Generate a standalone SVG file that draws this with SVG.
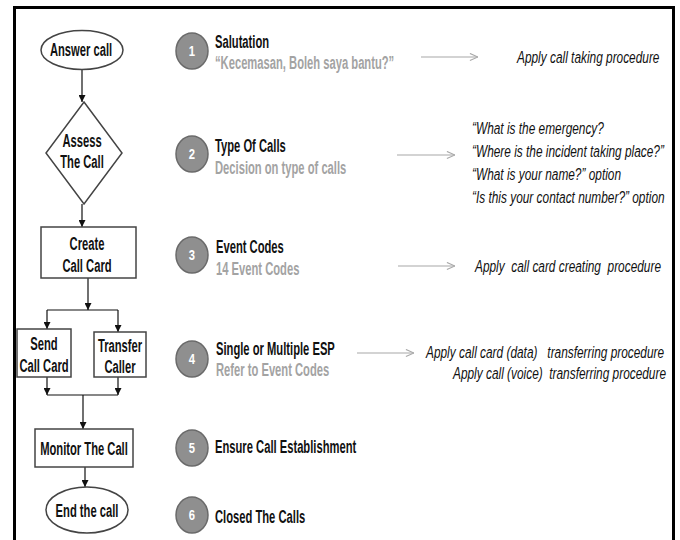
<svg xmlns="http://www.w3.org/2000/svg" width="680" height="540" viewBox="0 0 680 540">
<style>
.fc{fill:#fff;stroke:#444;stroke-width:1.5}
.ft{font-family:"Liberation Sans",Arial,sans-serif;font-weight:bold;font-size:17.5px;fill:#111;text-anchor:middle}
.t{font-family:"Liberation Sans",Arial,sans-serif;font-weight:bold;font-size:17.5px;fill:#111}
.s{font-family:"Liberation Sans",Arial,sans-serif;font-weight:bold;font-size:17.5px;fill:#a3a3a3}
.n{font-family:"Liberation Sans",Arial,sans-serif;font-weight:bold;font-size:15px;fill:#fff;text-anchor:middle}
.nc{fill:#8f8f8f;stroke:#6a6a6a;stroke-width:1.5}
.it{font-family:"Liberation Sans",Arial,sans-serif;font-style:italic;font-size:16.5px;fill:#111;white-space:pre}
.cn{fill:none;stroke:#111;stroke-width:1.2}
.ra{fill:none;stroke:#a8a8a8;stroke-width:1.2}
</style>
<defs>
<marker id="ah" viewBox="0 0 10 10" refX="10" refY="5" markerWidth="7" markerHeight="7" orient="auto" markerUnits="userSpaceOnUse">
<path d="M0,0 L10,5 L0,10 z" fill="#111"/>
</marker>
<marker id="oh" viewBox="0 0 10 10" refX="10" refY="5" markerWidth="9" markerHeight="9" orient="auto" markerUnits="userSpaceOnUse">
<path d="M1,1 L10,5 L1,9" fill="none" stroke="#a8a8a8" stroke-width="1.2"/>
</marker>
</defs>
<rect x="0" y="0" width="680" height="540" fill="#fff"/>
<rect x="14.5" y="7.5" width="659" height="560" fill="none" stroke="#000" stroke-width="3"/>

<g id="connectors">
<line class="cn" x1="82" y1="70" x2="82" y2="102" marker-end="url(#ah)"/>
<line class="cn" x1="82" y1="204" x2="82" y2="227" marker-end="url(#ah)"/>
<line class="cn" x1="88" y1="278" x2="88" y2="310" marker-end="url(#ah)"/>
<line class="cn" x1="47" y1="310" x2="118" y2="310"/>
<line class="cn" x1="47" y1="310" x2="47" y2="329" marker-end="url(#ah)"/>
<line class="cn" x1="118" y1="310" x2="118" y2="332" marker-end="url(#ah)"/>
<line class="cn" x1="47" y1="377" x2="47" y2="395" marker-end="url(#ah)"/>
<line class="cn" x1="118" y1="377" x2="118" y2="395" marker-end="url(#ah)"/>
<line class="cn" x1="47" y1="395" x2="118" y2="395"/>
<line class="cn" x1="83" y1="395" x2="83" y2="429" marker-end="url(#ah)"/>
<line class="cn" x1="85" y1="467" x2="85" y2="487" marker-end="url(#ah)"/>
<line class="ra" x1="421" y1="57" x2="478" y2="57" marker-end="url(#oh)"/>
<line class="ra" x1="397" y1="155" x2="455" y2="155" marker-end="url(#oh)"/>
<line class="ra" x1="398" y1="266" x2="455" y2="266" marker-end="url(#oh)"/>
<line class="ra" x1="357" y1="353" x2="414" y2="353" marker-end="url(#oh)"/>
</g>

<g id="answer-call">
<ellipse class="fc" cx="82" cy="50" rx="41" ry="19.5"/>
<text class="ft" transform="translate(81 56) scale(0.64 1)">Answer call</text>
</g>
<g id="assess-call">
<polygon class="fc" points="84,102 122,153 84,204 46,153"/>
<text class="ft" transform="translate(82 147) scale(0.64 1)">Assess</text>
<text class="ft" transform="translate(82 168) scale(0.64 1)">The Call</text>
</g>
<g id="create-call-card">
<rect class="fc" x="41" y="227" width="95" height="51"/>
<text class="ft" transform="translate(87 250) scale(0.64 1)">Create</text>
<text class="ft" transform="translate(87 272) scale(0.64 1)">Call Card</text>
</g>
<g id="send-call-card">
<rect class="fc" x="17" y="329" width="54" height="48"/>
<text class="ft" transform="translate(44 350) scale(0.64 1)">Send</text>
<text class="ft" transform="translate(44 372) scale(0.64 1)">Call Card</text>
</g>
<g id="transfer-caller">
<rect class="fc" x="94" y="332" width="52" height="45"/>
<text class="ft" transform="translate(120 352) scale(0.64 1)">Transfer</text>
<text class="ft" transform="translate(120 373) scale(0.64 1)">Caller</text>
</g>
<g id="monitor-call">
<rect class="fc" x="35" y="429" width="98" height="38"/>
<text class="ft" transform="translate(84 455) scale(0.64 1)">Monitor The Call</text>
</g>
<g id="end-call">
<ellipse class="fc" cx="87" cy="510" rx="41" ry="23"/>
<text class="ft" transform="translate(87 517) scale(0.64 1)">End the call</text>
</g>

<g id="step-1">
<ellipse class="nc" cx="192" cy="51" rx="16" ry="18"/>
<text class="n" transform="translate(192 56) scale(0.75 1)">1</text>
<text class="t" transform="translate(215 48) scale(0.64 1)">Salutation</text>
<text class="s" transform="translate(215 69) scale(0.64 1)">“Kecemasan, Boleh saya bantu?”</text>
</g>
<g id="step-2">
<ellipse class="nc" cx="192" cy="154" rx="16" ry="18"/>
<text class="n" transform="translate(192 159) scale(0.75 1)">2</text>
<text class="t" transform="translate(215 152) scale(0.64 1)">Type Of Calls</text>
<text class="s" transform="translate(215 174) scale(0.64 1)">Decision on type of calls</text>
</g>
<g id="step-3">
<ellipse class="nc" cx="192" cy="255" rx="16" ry="18"/>
<text class="n" transform="translate(192 260) scale(0.75 1)">3</text>
<text class="t" transform="translate(216 253) scale(0.64 1)">Event Codes</text>
<text class="s" transform="translate(216 275) scale(0.64 1)">14 Event Codes</text>
</g>
<g id="step-4">
<ellipse class="nc" cx="192" cy="359" rx="16" ry="18"/>
<text class="n" transform="translate(192 364) scale(0.75 1)">4</text>
<text class="t" transform="translate(216 355) scale(0.64 1)">Single or Multiple ESP</text>
<text class="s" transform="translate(216 376) scale(0.64 1)">Refer to Event Codes</text>
</g>
<g id="step-5">
<ellipse class="nc" cx="192" cy="448" rx="16" ry="18"/>
<text class="n" transform="translate(192 453) scale(0.75 1)">5</text>
<text class="t" transform="translate(215 453) scale(0.64 1)">Ensure Call Establishment</text>
</g>
<g id="step-6">
<ellipse class="nc" cx="192" cy="515" rx="16" ry="18"/>
<text class="n" transform="translate(192 520) scale(0.75 1)">6</text>
<text class="t" transform="translate(215 523) scale(0.64 1)">Closed The Calls</text>
</g>

<g id="procedures">
<text class="it" transform="translate(517 63) scale(0.72 1)">Apply call taking procedure</text>
<text class="it" transform="translate(472 134) scale(0.72 1)">“What is the emergency?</text>
<text class="it" transform="translate(472 157) scale(0.72 1)">“Where is the incident taking place?”</text>
<text class="it" transform="translate(472 180) scale(0.72 1)">“What is your name?” option</text>
<text class="it" transform="translate(472 203) scale(0.72 1)">“Is this your contact number?” option</text>
<text class="it" transform="translate(475 272) scale(0.72 1)">Apply  call card creating  procedure</text>
<text class="it" transform="translate(426 358) scale(0.72 1)">Apply call card (data)   transferring procedure</text>
<text class="it" transform="translate(453 379) scale(0.72 1)">Apply call (voice)  transferring procedure</text>
</g>
</svg>
